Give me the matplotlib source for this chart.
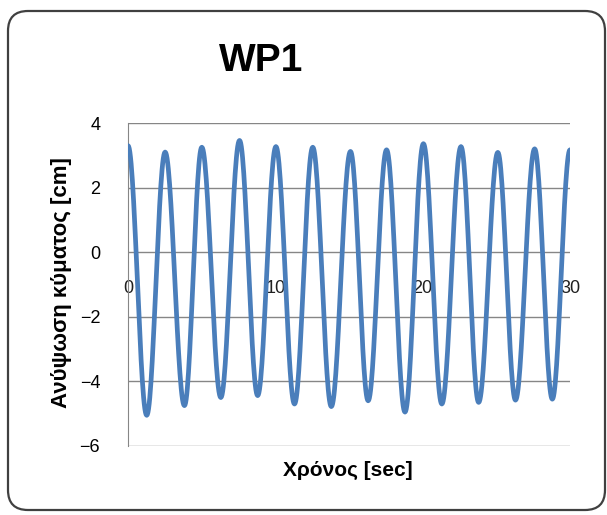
import numpy as np
import matplotlib.pyplot as plt
from matplotlib.patches import FancyBboxPatch

# wave extrema (time [sec], elevation [cm])
peak_t = [0.0, 1.27, 2.52, 3.83, 5.01, 6.3, 7.57, 8.8, 10.04, 11.3, 12.54, 13.8,
          15.1, 16.3, 17.55, 18.8, 20.05, 21.3, 22.6, 23.8, 25.1, 26.3, 27.6, 28.8, 30.0]
peak_v = [3.3, -5.05, 3.1, -4.75, 3.25, -4.5, 3.46, -4.44, 3.27, -4.7, 3.25, -4.78,
          3.12, -4.6, 3.17, -4.95, 3.36, -4.7, 3.27, -4.65, 3.09, -4.58, 3.2, -4.55, 3.17]

xticks = [0, 10, 20, 30]
yticks = [-6, -4, -2, 0, 2, 4]
title = "WP1"
xlabel = "Χρόνος [sec]"
ylabel = "Ανύψωση κύματος [cm]"

plt.rcParams['font.family'] = ['Liberation Sans', 'DejaVu Sans']

# smooth half-cosine segments between the read extrema
tt, vv = [], []
for i in range(len(peak_t) - 1):
    s = np.linspace(0, 1, 30, endpoint=(i == len(peak_t) - 2))
    tt.append(peak_t[i] + s * (peak_t[i + 1] - peak_t[i]))
    vv.append(peak_v[i] + (peak_v[i + 1] - peak_v[i]) * (1 - np.cos(np.pi * s)) / 2)
tt = np.concatenate(tt)
vv = np.concatenate(vv)

fig = plt.figure(figsize=(6.07, 5.15), dpi=100)
ax = fig.add_axes([128 / 607, 1 - 446 / 515, 442 / 607, 323 / 515])

border = FancyBboxPatch((0.08, 0.05), 5.97, 4.99, boxstyle="round,pad=0,rounding_size=0.2",
                        transform=fig.dpi_scale_trans, fill=False, edgecolor='#404040',
                        linewidth=1.6, zorder=0)
fig.patches.append(border)

ax.plot(tt, vv, color='#4a7ebb', linewidth=3.4, solid_capstyle='round', zorder=3)

ax.set_xlim(0, 30)
ax.set_ylim(-6, 4)
ax.set_yticks(yticks)
ax.set_xticks(xticks)
ax.grid(axis='y', color='#868686', linewidth=1.0)
ax.grid(axis='x', visible=False)
for s in ['top', 'right']:
    ax.spines[s].set_visible(False)
ax.spines['left'].set_color('#868686')
ax.spines['bottom'].set_position(('data', 0))
ax.spines['bottom'].set_visible(False)
ax.tick_params(axis='y', length=0, pad=20, labelsize=13)
ax.tick_params(axis='x', length=0, pad=20, labelsize=13, labelcolor='#202020')

fig.text(261 / 607, 1 - 61 / 515, title, fontsize=28, fontweight='bold', ha='center', va='center')
fig.text(348 / 607, 1 - 470 / 515, xlabel, fontsize=15, fontweight='bold', ha='center', va='center')
fig.text(62 / 607, 1 - 283 / 515, ylabel, fontsize=16, fontweight='bold', ha='center', va='center',
         rotation=90)

fig.savefig("out.png", dpi=100)
